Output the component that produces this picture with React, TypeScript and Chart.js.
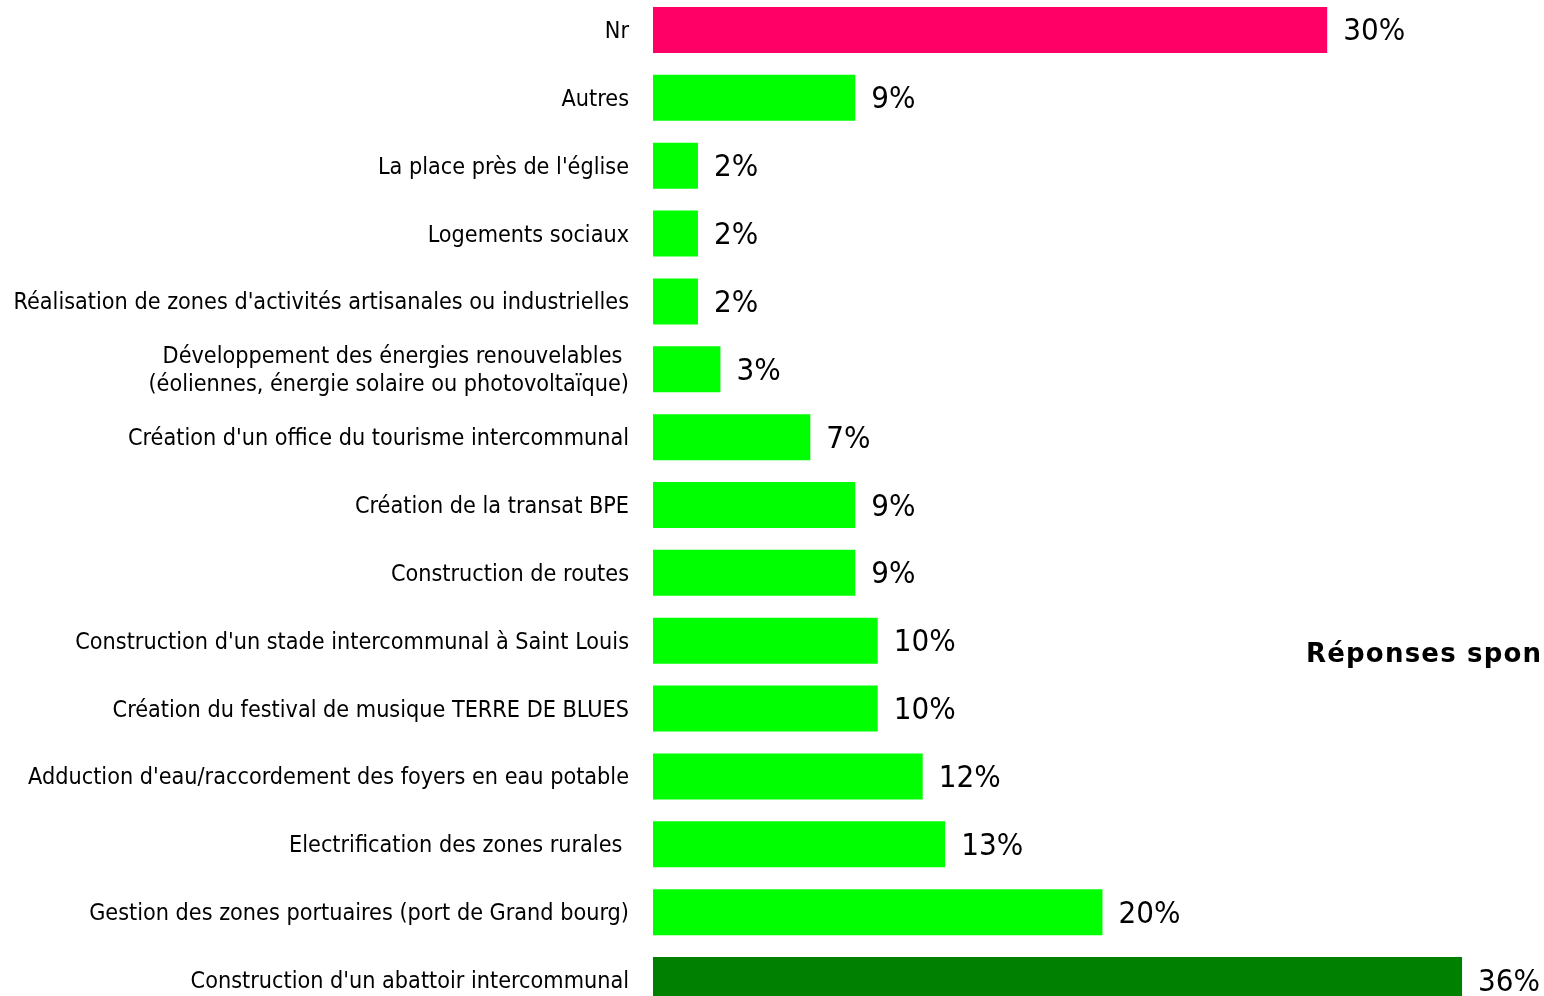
import React, { useEffect, useRef } from "react";
import { Chart, registerables } from "chart.js";

Chart.register(...registerables);

const categories: (string | string[])[] = [
  "Nr",
  "Autres",
  "La place près de l'église",
  "Logements sociaux",
  "Réalisation de zones d'activités artisanales ou industrielles",
  ["Développement des énergies renouvelables ", "(éoliennes, énergie solaire ou photovoltaïque)"],
  "Création d'un office du tourisme intercommunal",
  "Création de la transat BPE",
  "Construction de routes",
  "Construction d'un stade intercommunal à Saint Louis",
  "Création du festival de musique TERRE DE BLUES",
  "Adduction d'eau/raccordement des foyers en eau potable",
  "Electrification des zones rurales ",
  "Gestion des zones portuaires (port de Grand bourg)",
  "Construction d'un abattoir intercommunal",
];

const values: number[] = [30, 9, 2, 2, 2, 3, 7, 9, 9, 10, 10, 12, 13, 20, 36];

const barColors: string[] = [
  "#FF0066",
  "#00FF00", "#00FF00", "#00FF00", "#00FF00", "#00FF00", "#00FF00", "#00FF00",
  "#00FF00", "#00FF00", "#00FF00", "#00FF00", "#00FF00", "#00FF00",
  "#008000",
];

const sideTitle = "Réponses spon";

const FONT = "'DejaVu Sans Condensed', 'DejaVu Sans', sans-serif";
const CANVAS_OFFSET = 4.2;

const valueLabelPlugin = {
  id: "valueLabels",
  afterDatasetsDraw(chart: any) {
    const ctx = chart.ctx;
    const meta = chart.getDatasetMeta(0);
    ctx.save();
    ctx.font = `31px ${FONT}`;
    ctx.fillStyle = "#000000";
    ctx.textAlign = "left";
    ctx.textBaseline = "middle";
    meta.data.forEach((bar: any, i: number) => {
      ctx.fillText(`${values[i]}%`, bar.x + 16, bar.y + 2.5);
    });
    ctx.restore();
  },
};

const sideTitlePlugin = {
  id: "sideTitle",
  afterDraw(chart: any) {
    const ctx = chart.ctx;
    ctx.save();
    ctx.font = `bold 26px 'DejaVu Sans', sans-serif`;
    try {
      (ctx as any).letterSpacing = "1.2px";
    } catch (e) {}
    ctx.fillStyle = "#000000";
    ctx.textAlign = "left";
    ctx.textBaseline = "alphabetic";
    ctx.fillText(sideTitle, 1306, 661.5 + CANVAS_OFFSET);
    ctx.restore();
  },
};

export default function App() {
  const ref = useRef<HTMLCanvasElement | null>(null);

  useEffect(() => {
    if (!ref.current) return;
    const chart = new Chart(ref.current, {
      type: "bar",
      data: {
        labels: categories as any,
        datasets: [
          {
            data: values,
            backgroundColor: barColors,
            borderWidth: 0,
            barPercentage: 0.678,
            categoryPercentage: 1,
          },
        ],
      },
      options: {
        indexAxis: "y",
        responsive: false,
        animation: false,
        maintainAspectRatio: false,
        layout: { padding: { left: 0, right: 37, top: 0, bottom: 0 } },
        plugins: {
          legend: { display: false },
          tooltip: { enabled: false },
          title: { display: false },
        },
        scales: {
          x: {
            display: false,
            min: 0,
            max: 38,
          },
          y: {
            grid: { display: false, drawTicks: false },
            border: { display: false },
            ticks: {
              color: "#000000",
              padding: 24,
              labelOffset: 2,
              font: { family: FONT, size: 23.2, lineHeight: 1.21 },
            },
            afterFit(scale: any) {
              scale.width = 653;
              scale.paddingTop = 0;
              scale.paddingBottom = 0;
            },
          },
        },
      },
      plugins: [valueLabelPlugin, sideTitlePlugin],
    });
    return () => chart.destroy();
  }, []);

  return (
    <div
      style={{
        position: "absolute",
        left: 0,
        top: 0,
        width: 1544,
        height: 996,
        overflow: "hidden",
        background: "#ffffff",
      }}
    >
      <canvas
        ref={ref}
        width={1544}
        height={1018}
        style={{ position: "absolute", left: 0, top: -CANVAS_OFFSET, width: 1544, height: 1018 }}
      />
    </div>
  );
}
